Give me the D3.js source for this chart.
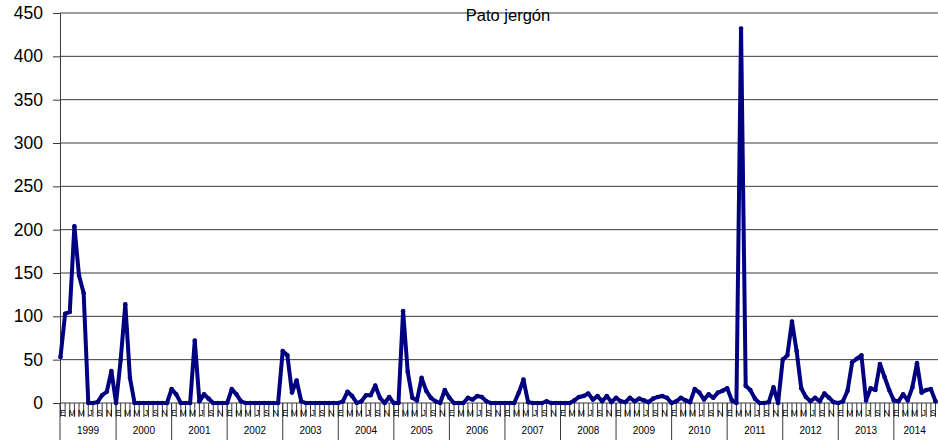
<!DOCTYPE html>
<html><head><meta charset="utf-8">
<script src="https://cdn.jsdelivr.net/npm/d3@7"></script>
<style>body{margin:0;background:#fff}svg{display:block;font-family:"Liberation Sans",Arial,sans-serif}</style>
</head><body>
<svg id="c" width="938" height="440"></svg>
<script>
// Data: monthly counts of "Pato jergón" (Jan 1999 – Oct 2014)
const title = "Pato jergón";
const monthLetters = ["E","F","M","A","M","J","J","A","S","O","N","D"];
const years = [1999,2000,2001,2002,2003,2004,2005,2006,2007,2008,2009,2010,2011,2012,2013,2014];
const y1999 = [53,103,105,204,147,127,0,0,1,9,13,37];
const y2000 = [0,50,114,29,0,0,0,0,0,0,0,0];
const y2001 = [16,10,0,0,0,72,2,10,5,0,0,0];
const y2002 = [0,16,10,2,0,0,0,0,0,0,0,0];
const y2003 = [60,55,12,26,2,0,0,0,0,0,0,0];
const y2004 = [0,2,13,8,0,2,9,9,20,6,0,7];
const y2005 = [0,0,106,36,6,3,29,14,6,2,0,15];
const y2006 = [6,0,0,0,6,4,8,7,2,0,0,0];
const y2007 = [0,0,0,12,27,1,0,0,0,2,0,0];
const y2008 = [0,0,0,3,7,8,11,4,8,2,8,1];
const y2009 = [6,2,1,6,2,5,3,1,5,7,8,6];
const y2010 = [0,2,6,3,1,16,12,4,10,6,12,14];
const y2011 = [17,3,0,432,20,15,5,0,0,1,18,0];
const y2012 = [50,55,94,60,17,7,2,6,2,11,6,1];
const y2013 = [0,2,14,47,51,55,3,17,15,45,30,15];
const y2014 = [3,2,10,3,18,46,12,15,16,2];
const yTicks = [0,50,100,150,200,250,300,350,400,450];

const series = [y1999,y2000,y2001,y2002,y2003,y2004,y2005,y2006,y2007,y2008,y2009,y2010,y2011,y2012,y2013,y2014];
const values = series.flat();
const n = values.length;

const svg = d3.select("#c");
const mLeft = 60, mTop = 13, mBottom = 403;
const x = d3.scaleLinear().domain([0, n - 1]).range([60.5, 935.5]);
const y = d3.scaleLinear().domain([0, 450]).range([mBottom, mTop]);

// gridlines
svg.append("g").selectAll("line").data(yTicks).join("line")
  .attr("x1", mLeft).attr("x2", 938)
  .attr("y1", d => y(d)).attr("y2", d => y(d))
  .attr("stroke", "#3a3a3a").attr("stroke-width", 1);

// y axis
const yAxis = d3.axisLeft(y).tickValues(yTicks).tickSize(7).tickPadding(10);
const ga = svg.append("g").attr("transform", `translate(${mLeft},0)`).call(yAxis);
ga.select(".domain").attr("stroke", "#3a3a3a");
ga.selectAll(".tick line").attr("stroke", "#3a3a3a");
ga.selectAll(".tick text").attr("font-size", "17.5px").attr("fill", "#000")
  .attr("font-family", "Liberation Sans, Arial, sans-serif");

// x axis: month separators, month labels, year separators, year labels
const gx = svg.append("g");
const idx = d3.range(n);
gx.selectAll("line.m").data(idx).join("line").attr("class","m")
  .attr("x1", d => x(d)).attr("x2", d => x(d))
  .attr("y1", mBottom).attr("y2", mBottom + 14)
  .attr("stroke", "#3a3a3a").attr("stroke-width", 1);
gx.selectAll("text.m").data(idx.filter(i => i % 2 === 0)).join("text").attr("class","m")
  .attr("x", d => x(d) + (x(1) - x(0)) / 2)
  .attr("y", mBottom + 13)
  .attr("text-anchor", "middle").attr("font-size", "8.5px").attr("fill", "#000")
  .text(d => monthLetters[d % 12]);
gx.selectAll("line.y").data(years).join("line").attr("class","y")
  .attr("x1", (d, i) => i === 0 ? mLeft : x(i * 12)).attr("x2", (d, i) => i === 0 ? mLeft : x(i * 12))
  .attr("y1", mBottom).attr("y2", 440)
  .attr("stroke", "#3a3a3a").attr("stroke-width", 1);
gx.selectAll("text.y").data(years).join("text").attr("class","y")
  .attr("x", (d, i) => {
    const s = i === 0 ? mLeft : x(i * 12);
    const e = Math.min(x(Math.min((i + 1) * 12, n - 1)), 938);
    return (s + e) / 2;
  })
  .attr("y", 434)
  .attr("text-anchor", "middle").attr("font-size", "10px").attr("fill", "#000")
  .text(d => d);

// line
const line = d3.line().x((d, i) => x(i)).y(d => y(d)).curve(d3.curveLinear);
svg.append("path").datum(values).attr("d", line)
  .attr("fill", "none").attr("stroke", "#000080").attr("stroke-width", 4)
  .attr("stroke-linejoin", "round").attr("stroke-linecap", "round");
svg.append("g").selectAll("circle").data(values).join("circle")
  .attr("cx", (d, i) => x(i)).attr("cy", d => y(d)).attr("r", 2.3)
  .attr("fill", "#000080");

// title
svg.append("text").attr("x", 508).attr("y", 21).attr("text-anchor", "middle")
  .attr("font-size", "16.5px").attr("fill", "#000").text(title);
</script>
</body></html>
